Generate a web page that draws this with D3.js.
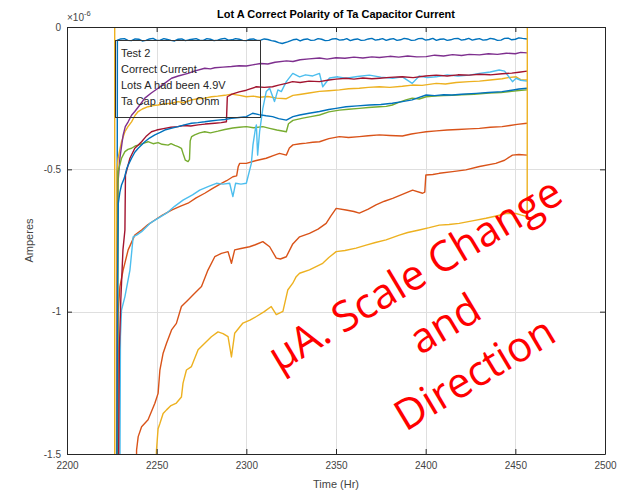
<!DOCTYPE html>
<html>
<head>
<meta charset="utf-8">
<script src="https://cdn.jsdelivr.net/npm/d3@7"></script>
<style>
  body { margin: 0; background: #ffffff; }
  svg { display: block; }
</style>
</head>
<body>
<svg id="chart" width="627" height="492"></svg>
<script>
// ---- axis ticks ----
const xTicks = [2200, 2250, 2300, 2350, 2400, 2450, 2500];
const xTickLabels = ["2200", "2250", "2300", "2350", "2400", "2450", "2500"];
const yTicks = [0, -0.5, -1, -1.5];
const yTickLabels = ["0", "-0.5", "-1", "-1.5"];

// ---- text ----
const titleText = "Lot A Correct Polarity of Ta Capacitor Current";
const xLabel = "Time (Hr)";
const yLabel = "Amperes";
const noteLines = ["Test 2", "Correct Current", "Lots A had been 4.9V", "Ta Cap and 50 Ohm"];
const calloutLines = ["\u00b5A. Scale Change", "and", "Direction"];

// ---- series: [time (Hr), current (x1e-6 A)] ----
const capBlueTop = [
  [2227.9,-1.6],[2228.0,-0.6],[2228.1,-0.046],[2230,-0.042],[2232,-0.041],[2234,-0.047],[2236,-0.048],[2238,-0.042],[2240,-0.043],[2242,-0.049],[2244,-0.047],
  [2246,-0.042],[2248,-0.040],[2250,-0.047],[2252,-0.046],[2254,-0.041],[2256,-0.044],[2258,-0.047],[2260,-0.049],[2262,-0.043],[2264,-0.042],[2266,-0.048],[2268,-0.045],[2270,-0.043],[2272,-0.041],
  [2274,-0.046],[2276,-0.047],[2278,-0.041],[2280,-0.043],[2282,-0.048],[2284,-0.046],[2286,-0.042],[2288,-0.040],[2290,-0.046],[2292,-0.045],[2294,-0.041],[2296,-0.043],[2298,-0.047],[2300,-0.048],
  [2302,-0.043],[2304,-0.042],[2306,-0.047],[2308,-0.046],[2310,-0.042],[2312,-0.044],[2314,-0.048],[2316,-0.050],[2318,-0.055],[2320,-0.058],[2323,-0.052],[2326,-0.045],
  [2328,-0.043],[2330,-0.049],[2332,-0.044],[2334,-0.042],[2336,-0.047],[2338,-0.046],[2340,-0.041],[2342,-0.043],[2344,-0.048],[2346,-0.047],[2348,-0.042],[2350,-0.041],[2352,-0.046],[2354,-0.045],
  [2356,-0.041],[2358,-0.048],[2360,-0.044],[2362,-0.042],[2364,-0.047],[2366,-0.046],[2368,-0.042],[2370,-0.040],[2372,-0.046],[2374,-0.044],[2376,-0.041],[2378,-0.047],[2380,-0.043],[2382,-0.041],
  [2384,-0.047],[2386,-0.045],[2388,-0.040],[2390,-0.042],[2392,-0.047],[2394,-0.046],[2396,-0.041],[2398,-0.040],[2400,-0.046],[2402,-0.044],[2404,-0.040],[2406,-0.047],[2408,-0.043],[2410,-0.042],
  [2412,-0.047],[2414,-0.045],[2416,-0.041],[2418,-0.040],[2420,-0.046],[2422,-0.044],[2424,-0.040],[2426,-0.046],[2428,-0.043],[2430,-0.041],[2432,-0.046],[2434,-0.045],[2436,-0.040],[2438,-0.042],
  [2440,-0.047],[2442,-0.046],[2444,-0.040],[2446,-0.039],[2448,-0.045],[2450,-0.043],[2452,-0.038],[2454,-0.040],[2456.5,-0.042]
];
const capOrangeUpper = [
  [2228.1,-1.6],[2228.4,-1.24],[2228.5,-1.006],[2229.5,-0.912],[2231.3,-0.854],[2234.1,-0.783],
  [2237.8,-0.731],[2241.6,-0.713],[2245,-0.695],[2249,-0.678],[2253,-0.662],[2258.3,-0.643],
  [2263,-0.630],[2267.5,-0.619],[2272,-0.600],[2276.8,-0.584],[2281,-0.568],[2286.1,-0.549],
  [2289,-0.540],[2292.5,-0.526],[2294.6,-0.523],[2295.5,-0.490],[2296.3,-0.479],[2300,-0.479],
  [2305,-0.470],[2311.1,-0.461],[2315,-0.452],[2318.5,-0.444],[2322.3,-0.450],[2324,-0.425],
  [2326,-0.414],[2330,-0.410],[2333.4,-0.408],[2337,-0.405],[2340.8,-0.403],[2346,-0.392],
  [2351.9,-0.385],[2357,-0.388],[2363,-0.385],[2368,-0.382],[2374.2,-0.379],[2380,-0.381],
  [2387,-0.383],[2392,-0.376],[2396,-0.372],[2400.3,-0.368],[2406,-0.365],[2412,-0.362],
  [2418,-0.360],[2424.3,-0.358],[2430,-0.356],[2436,-0.352],[2442.6,-0.350],[2447,-0.346],
  [2451,-0.342],[2456.5,-0.338]
];
const capYellowUpper = [
  [2227.6,-1.6],[2227.7,-0.9],[2227.8,-0.51],[2228.5,-0.461],[2230.4,-0.403],[2232.3,-0.368],
  [2234,-0.350],[2236,-0.333],[2238,-0.310],[2239.7,-0.297],[2242,-0.288],[2245.2,-0.280],
  [2248,-0.276],[2250.8,-0.274],[2254,-0.270],[2258.3,-0.268],[2262,-0.262],[2265,-0.266],
  [2269.4,-0.256],[2273,-0.252],[2277,-0.250],[2280.5,-0.245],[2284,-0.243],[2288,-0.240],
  [2291.7,-0.236],[2296.3,-0.240],[2300,-0.245],[2304,-0.243],[2307.4,-0.247],[2312,-0.244],
  [2317,-0.250],[2322.3,-0.252],[2326,-0.240],[2329.7,-0.237],[2335,-0.232],[2340.8,-0.226],
  [2346,-0.224],[2351.9,-0.221],[2357,-0.217],[2363,-0.215],[2368,-0.212],[2374.2,-0.210],
  [2380,-0.212],[2387,-0.208],[2392.5,-0.204],[2398,-0.205],[2405.9,-0.198],[2411,-0.200],
  [2417,-0.195],[2424.3,-0.192],[2430,-0.190],[2436,-0.186],[2442.6,-0.182],[2446,-0.178],
  [2450.4,-0.175],[2453,-0.185],[2456.5,-0.186]
];
const capPurple = [
  [2227.9,-1.6],[2228.0,-1.1],[2228.2,-0.75],[2228.4,-0.55],[2229.5,-0.46],[2231.3,-0.38],
  [2232.5,-0.350],[2234.1,-0.333],[2236,-0.310],[2237.8,-0.297],[2240.5,-0.275],[2243.4,-0.250],
  [2247,-0.232],[2250.8,-0.215],[2254,-0.200],[2258.3,-0.180],[2262,-0.172],[2267.5,-0.163],
  [2271,-0.155],[2276.8,-0.145],[2280,-0.147],[2282.4,-0.143],[2287,-0.141],[2291.7,-0.139],
  [2296,-0.136],[2300,-0.137],[2303.5,-0.133],[2308,-0.128],[2312,-0.130],[2316,-0.124],
  [2322.4,-0.119],[2326,-0.121],[2330,-0.115],[2335,-0.112],[2340.8,-0.109],[2345,-0.113],
  [2350,-0.108],[2355,-0.110],[2360,-0.106],[2365,-0.109],[2370,-0.105],[2374.2,-0.107],
  [2380,-0.103],[2385,-0.106],[2390,-0.102],[2395,-0.105],[2400.3,-0.104],[2405,-0.099],
  [2410,-0.102],[2415,-0.097],[2420,-0.100],[2424.3,-0.096],[2430,-0.098],[2435,-0.094],
  [2440,-0.096],[2445,-0.092],[2450,-0.094],[2453,-0.089],[2456.5,-0.091]
];
const capGreen = [
  [2228.2,-1.6],[2228.4,-0.8],[2228.5,-0.508],[2230.4,-0.461],[2232.3,-0.438],[2234,-0.430],
  [2236,-0.426],[2238,-0.418],[2239.7,-0.415],[2242,-0.410],[2245.2,-0.403],[2248,-0.410],
  [2250.8,-0.406],[2253,-0.412],[2256.4,-0.415],[2258,-0.410],[2260.1,-0.416],[2262,-0.420],
  [2263.8,-0.426],[2265,-0.450],[2266,-0.468],[2267.5,-0.473],[2268.3,-0.465],[2268.7,-0.400],
  [2269.5,-0.385],[2271.2,-0.379],[2274,-0.372],[2276.8,-0.368],[2280,-0.372],[2284.2,-0.366],
  [2288,-0.360],[2292.4,-0.355],[2296,-0.352],[2300,-0.350],[2304,-0.354],[2309.2,-0.350],
  [2313,-0.356],[2317,-0.362],[2322.3,-0.368],[2323.5,-0.340],[2326,-0.328],[2331.5,-0.320],
  [2336,-0.315],[2340.8,-0.309],[2346,-0.298],[2351.9,-0.292],[2357,-0.289],[2363,-0.286],
  [2368,-0.283],[2374.2,-0.280],[2378,-0.279],[2381.4,-0.274],[2385,-0.265],[2389,-0.256],
  [2392.5,-0.250],[2396.4,-0.253],[2400.3,-0.245],[2405,-0.243],[2410,-0.241],[2414.8,-0.240],
  [2420,-0.238],[2427,-0.236],[2435.4,-0.232],[2442,-0.230],[2448,-0.226],[2452,-0.223],
  [2456.5,-0.221]
];
const capLightBlue = [
  [2229.5,-1.6],[2229.8,-1.088],[2230.4,-0.994],[2232.3,-0.947],[2235.1,-0.854],[2236.9,-0.737],
  [2239,-0.730],[2241.6,-0.719],[2246.2,-0.690],[2250,-0.675],[2255.5,-0.654],[2260,-0.630],
  [2264.7,-0.608],[2270,-0.590],[2274,-0.573],[2279,-0.560],[2283.3,-0.549],[2287,-0.552],
  [2290.7,-0.549],[2292.5,-0.596],[2294,-0.549],[2297,-0.552],[2300,-0.549],[2302.8,-0.479],
  [2303.7,-0.414],[2305,-0.360],[2305.6,-0.344],[2306.3,-0.450],[2307.4,-0.368],[2309.2,-0.286],
  [2311.1,-0.227],[2313,-0.215],[2315.7,-0.262],[2317.6,-0.221],[2319.5,-0.227],[2322.3,-0.192],
  [2325.9,-0.163],[2329.7,-0.175],[2333,-0.168],[2337,-0.172],[2340.8,-0.163],[2342.6,-0.210],
  [2346.4,-0.179],[2351,-0.175],[2355.6,-0.180],[2362,-0.174],[2368.6,-0.169],[2375,-0.176],
  [2381.6,-0.180],[2387,-0.175],[2392.5,-0.198],[2396.4,-0.172],[2401,-0.178],[2405.9,-0.175],
  [2412,-0.168],[2418,-0.172],[2424.3,-0.169],[2430,-0.163],[2436,-0.158],[2441,-0.151],
  [2444,-0.155],[2448.4,-0.192],[2450.4,-0.180],[2453,-0.187],[2456.5,-0.190]
];
const capDarkRed = [
  [2228.7,-1.6],[2229.2,-1.135],[2230.0,-0.959],[2231.2,-0.783],[2232.3,-0.713],[2232.6,-0.520],
  [2235.1,-0.461],[2237.8,-0.426],[2241.6,-0.403],[2244,-0.385],[2247.1,-0.368],[2250,-0.362],
  [2254.5,-0.356],[2258,-0.352],[2261.9,-0.350],[2265,-0.346],[2269,-0.348],[2273.1,-0.344],
  [2277,-0.341],[2282.4,-0.338],[2286,-0.336],[2288.9,-0.333],[2289.4,-0.245],[2292,-0.236],
  [2296,-0.228],[2300,-0.222],[2305.6,-0.210],[2310,-0.212],[2314.6,-0.210],[2318,-0.204],
  [2322.3,-0.198],[2325.8,-0.192],[2330,-0.195],[2335,-0.190],[2340.8,-0.192],[2346,-0.186],
  [2350,-0.183],[2355.6,-0.180],[2360,-0.183],[2365,-0.179],[2370,-0.182],[2374.2,-0.180],
  [2380,-0.177],[2387,-0.175],[2393,-0.178],[2400,-0.172],[2405.9,-0.169],[2412,-0.172],
  [2418,-0.168],[2424.3,-0.169],[2430,-0.166],[2436,-0.168],[2442.6,-0.164],[2448,-0.162],
  [2452,-0.159],[2456.5,-0.155]
];
const capBlueSecond = [
  [2227.8,-1.6],[2228.2,-0.9],[2228.6,-0.62],[2229.5,-0.58],[2230.4,-0.555],[2232,-0.530],
  [2233.2,-0.500],[2234.1,-0.485],[2236,-0.461],[2237.8,-0.440],[2239.7,-0.426],[2243.4,-0.403],
  [2246,-0.390],[2249,-0.379],[2252,-0.370],[2254.5,-0.362],[2258,-0.356],[2261.9,-0.350],
  [2266,-0.343],[2269.4,-0.338],[2273,-0.336],[2276.8,-0.333],[2280,-0.330],[2284.2,-0.327],
  [2288,-0.325],[2291.7,-0.321],[2296,-0.318],[2300,-0.315],[2303.5,-0.303],[2307,-0.308],
  [2311,-0.312],[2314.6,-0.315],[2318,-0.322],[2322.3,-0.327],[2326,-0.315],[2329.7,-0.309],
  [2335,-0.303],[2340.8,-0.297],[2346,-0.290],[2350,-0.286],[2355.6,-0.280],[2362,-0.277],
  [2368.6,-0.274],[2375,-0.272],[2381.4,-0.268],[2387,-0.262],[2392.5,-0.256],[2396,-0.248],
  [2400.3,-0.239],[2405,-0.241],[2410,-0.238],[2414.8,-0.239],[2420,-0.236],[2428.2,-0.233],
  [2435,-0.230],[2442.6,-0.227],[2448,-0.222],[2452,-0.218],[2456.5,-0.215]
];
const capOrangeLower = [
  [2238.7,-1.6],[2238.8,-1.486],[2239.7,-1.439],[2241.6,-1.404],[2245.2,-1.380],[2249,-1.322],
  [2250.8,-1.287],[2251.8,-1.205],[2253.6,-1.146],[2255.5,-1.111],[2258.3,-1.064],[2261,-1.041],
  [2263.8,-0.982],[2267.5,-0.959],[2271.2,-0.935],[2275,-0.912],[2278.6,-0.854],[2282.4,-0.807],
  [2286.1,-0.795],[2289.8,-0.789],[2291.7,-0.830],[2293.5,-0.783],[2297,-0.778],[2301.8,-0.772],
  [2305,-0.765],[2309.2,-0.754],[2313,-0.772],[2316.7,-0.812],[2319,-0.815],[2322.3,-0.807],
  [2325.9,-0.762],[2329.7,-0.737],[2335.2,-0.725],[2340,-0.710],[2344.5,-0.690],[2347,-0.665],
  [2350.1,-0.637],[2355.6,-0.643],[2360,-0.648],[2363,-0.654],[2368,-0.640],[2372.3,-0.625],
  [2377,-0.612],[2381.6,-0.602],[2387,-0.588],[2392.7,-0.573],[2398.3,-0.584],[2399.5,-0.580],
  [2400.1,-0.520],[2404,-0.518],[2407.6,-0.514],[2415,-0.508],[2422.4,-0.502],[2430,-0.490],
  [2439.1,-0.479],[2444,-0.468],[2448.4,-0.450],[2452,-0.448],[2456.5,-0.450]
];
const capYellowLower = [
  [2226.6,0.1],[2226.6,-1.6],[2249.5,-1.6],[2249.9,-1.486],[2250.8,-1.411],[2251.8,-1.393],
  [2253.6,-1.358],[2255.5,-1.345],[2258,-1.330],[2261,-1.321],[2263.8,-1.300],[2264.7,-1.251],
  [2266.6,-1.205],[2269.4,-1.193],[2273.1,-1.134],[2276.8,-1.111],[2280.5,-1.088],[2284.2,-1.071],
  [2287,-1.077],[2289.8,-1.088],[2291.7,-1.159],[2293.5,-1.076],[2298.1,-1.040],[2302,-1.030],
  [2305.6,-1.017],[2310,-1.000],[2313.9,-0.982],[2316.7,-1.010],[2320.4,-0.999],[2323.1,-0.924],
  [2325.9,-0.900],[2327.8,-0.877],[2329.7,-0.865],[2335.2,-0.853],[2342.6,-0.830],[2346,-0.810],
  [2350.1,-0.789],[2355,-0.785],[2361.2,-0.777],[2366.8,-0.766],[2372,-0.757],[2377.9,-0.748],
  [2385.3,-0.731],[2390,-0.722],[2396.4,-0.713],[2402,-0.705],[2407.6,-0.696],[2413,-0.694],
  [2418.7,-0.690],[2426,-0.681],[2433.6,-0.672],[2440,-0.663],[2444.7,-0.655],[2450.3,-0.655],
  [2453,-0.660],[2456.6,-0.666],[2456.7,0.1]
];

const seriesColors = ["#0072BD", "#D95319", "#EDB120", "#7E2F8E", "#77AC30", "#4DBEEE", "#A2142F",
                      "#0072BD", "#D95319", "#EDB120"];
const seriesData = [capBlueTop, capOrangeUpper, capYellowUpper, capPurple, capGreen, capLightBlue,
                    capDarkRed, capBlueSecond, capOrangeLower, capYellowLower];

// ---- layout ----
const svg = d3.select("#chart");
const plot = { left: 67, right: 605, top: 27, bottom: 454 };
const axisFont = "'Liberation Sans', Arial, Helvetica, sans-serif";
const axisColor = "#262626";

const x = d3.scaleLinear().domain([2200, 2500]).range([plot.left, plot.right]);
const y = d3.scaleLinear().domain([-1.5, 0]).range([plot.bottom, plot.top]);

// grid
const grid = svg.append("g").attr("stroke", "#dfdfdf").attr("stroke-width", 1);
grid.selectAll("line.gx").data(xTicks.slice(1, -1)).join("line")
  .attr("x1", d => Math.round(x(d)) + 0.5).attr("x2", d => Math.round(x(d)) + 0.5)
  .attr("y1", plot.top).attr("y2", plot.bottom);
grid.selectAll("line.gy").data(yTicks.slice(1, -1)).join("line")
  .attr("y1", d => Math.round(y(d)) + 0.5).attr("y2", d => Math.round(y(d)) + 0.5)
  .attr("x1", plot.left).attr("x2", plot.right);

// data lines, clipped to the axes box
svg.append("clipPath").attr("id", "plotClip").append("rect")
  .attr("x", plot.left).attr("y", plot.top)
  .attr("width", plot.right - plot.left).attr("height", plot.bottom - plot.top);

const line = d3.line().x(d => x(d[0])).y(d => y(d[1]));
svg.append("g").attr("clip-path", "url(#plotClip)")
  .selectAll("path").data(seriesData).join("path")
  .attr("d", line)
  .attr("fill", "none")
  .attr("stroke", (d, i) => seriesColors[i])
  .attr("stroke-width", 1.4)
  .attr("stroke-linejoin", "round");

// axes (ticks point inward, box on all sides)
function styleAxis(g) {
  g.attr("font-family", axisFont).attr("font-size", 10);
  g.selectAll("path.domain").attr("stroke", axisColor);
  g.selectAll(".tick line").attr("stroke", axisColor);
  g.selectAll(".tick text").attr("fill", "#444");
}
svg.append("g").attr("transform", `translate(0,${plot.bottom})`)
  .call(d3.axisBottom(x).tickValues(xTicks).tickFormat((d, i) => xTickLabels[i])
    .tickSizeInner(-5).tickSizeOuter(0).tickPadding(8))
  .call(styleAxis);
svg.append("g").attr("transform", `translate(0,${plot.top})`)
  .call(d3.axisTop(x).tickValues(xTicks).tickFormat("").tickSizeInner(-5).tickSizeOuter(0))
  .call(styleAxis);
svg.append("g").attr("transform", `translate(${plot.left},0)`)
  .call(d3.axisLeft(y).tickValues(yTicks).tickFormat((d, i) => yTickLabels[i])
    .tickSizeInner(-5).tickSizeOuter(0).tickPadding(6))
  .call(styleAxis);
svg.append("g").attr("transform", `translate(${plot.right},0)`)
  .call(d3.axisRight(y).tickValues(yTicks).tickFormat("").tickSizeInner(-5).tickSizeOuter(0))
  .call(styleAxis);

// exponent marker
const expo = svg.append("text").attr("x", plot.left).attr("y", plot.top - 6)
  .attr("font-family", axisFont).attr("font-size", 10).attr("fill", "#444");
expo.append("tspan").text("\u00d710");
expo.append("tspan").attr("dy", -5).attr("font-size", 7.5).text("-6");

// title and axis labels
svg.append("text").attr("x", (plot.left + plot.right) / 2).attr("y", 18)
  .attr("text-anchor", "middle").attr("font-family", axisFont)
  .attr("font-size", 11).attr("font-weight", "bold").attr("fill", "#000")
  .text(titleText);
svg.append("text").attr("x", (plot.left + plot.right) / 2).attr("y", 488)
  .attr("text-anchor", "middle").attr("font-family", axisFont)
  .attr("font-size", 11).attr("fill", "#444").text(xLabel);
svg.append("text").attr("transform", `translate(33,${(plot.top + plot.bottom) / 2}) rotate(-90)`)
  .attr("text-anchor", "middle").attr("font-family", axisFont)
  .attr("font-size", 11).attr("fill", "#444").text(yLabel);

// note box
const note = svg.append("g");
note.append("rect").attr("x", 115.5).attr("y", 40.5).attr("width", 145).attr("height", 77)
  .attr("fill", "none").attr("stroke", "#333").attr("stroke-width", 1);
note.selectAll("text").data(noteLines).join("text")
  .attr("x", 121).attr("y", (d, i) => 56.5 + i * 16)
  .attr("font-family", axisFont).attr("font-size", 11).attr("fill", "#262626")
  .text(d => d);

// red callout
const callout = svg.append("g").attr("transform", "translate(446,326) rotate(-31)");
callout.selectAll("text").data(calloutLines).join("text")
  .attr("x", 0).attr("y", (d, i) => (i - 1) * 58 + 12)
  .attr("text-anchor", "middle")
  .attr("font-family", "'Open Sans', 'Noto Sans', sans-serif")
  .attr("font-size", 42).attr("fill", "#ff0000")
  .text(d => d);
</script>
</body>
</html>
